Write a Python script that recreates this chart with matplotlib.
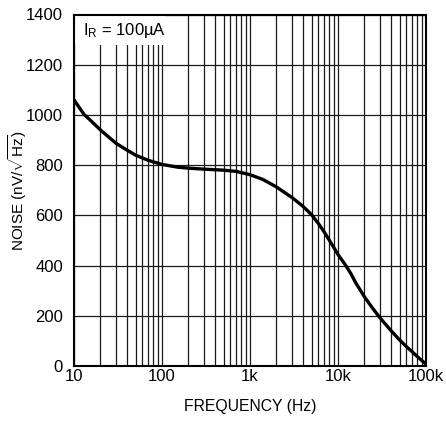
import matplotlib
matplotlib.use("Agg")
import matplotlib.pyplot as plt
from matplotlib.patches import Rectangle
from matplotlib.ticker import FixedLocator, NullFormatter

# points
freq = [10, 13, 15, 20, 30, 40, 50, 70, 100, 150, 200, 300, 500, 700,
        1000, 1400, 2000, 3000, 4000, 5000, 6000, 7000, 8000, 9000,
        10000, 12000, 14000, 16000, 20000, 25000, 30000, 40000, 50000,
        60000, 70000, 80000, 90000, 100000]
noise = [1060, 1002, 982, 940, 887, 860, 840, 819, 803, 792, 788, 784, 780, 775,
         762, 743, 713, 671, 636, 603, 567, 533, 500, 471,
         444, 405, 368, 330, 275, 228, 192, 141, 104,
         77, 56, 37, 21, 8]

x_ticks = [10, 100, 1000, 10000, 100000]
x_labels = ["10", "100", "1k", "10k", "100k"]
y_ticks = [0, 200, 400, 600, 800, 1000, 1200, 1400]
minor_x = [m * 10 ** d for d in range(1, 5) for m in range(2, 10)]

plt.rcParams["font.family"] = ["Liberation Sans", "DejaVu Sans"]
plt.rcParams["mathtext.fontset"] = "custom"
plt.rcParams["mathtext.rm"] = "Liberation Sans"
plt.rcParams["mathtext.it"] = "Liberation Sans:italic"

fig = plt.figure(figsize=(4.46, 4.24), dpi=100)
ax = fig.add_axes([74 / 446, 58 / 424, 352 / 446, 351.5 / 424])

ax.set_xscale("log")
ax.set_xlim(10, 100000)
ax.set_ylim(0, 1400)

ax.xaxis.set_major_locator(FixedLocator(x_ticks))
ax.xaxis.set_minor_locator(FixedLocator(minor_x))
ax.xaxis.set_minor_formatter(NullFormatter())
ax.set_xticks(x_ticks, x_labels)
ax.set_yticks(y_ticks)

ax.grid(True, which="both", axis="x", color="#1a1a1a", lw=0.9)
ax.grid(True, which="major", axis="y", color="#1a1a1a", lw=0.9)
ax.set_axisbelow(True)

ax.tick_params(which="both", length=0, labelsize=12)
ax.tick_params(axis="x", pad=2)
ax.tick_params(axis="y", pad=8)

for s in ax.spines.values():
    s.set_linewidth(1.5)
    s.set_color("black")

ax.plot(freq, noise, color="black", lw=2.4, solid_joinstyle="round", zorder=3)

# white patch behind the label, hides the grid there
ax.add_patch(Rectangle((0, (366 - 45) / 351.5), (165 - 74) / 352, 1,
                       transform=ax.transAxes, facecolor="white",
                       edgecolor="none", zorder=2, clip_on=True))
ax.text((83 - 74) / 352, (366 - 31) / 351.5, r"$\mathrm{I_R}$ = 100µA",
        transform=ax.transAxes, fontsize=12, va="center", ha="left", zorder=4)

ax.set_xlabel("FREQUENCY (Hz)", fontsize=11.3, labelpad=11)
ax.set_ylabel(r"NOISE (nV/$\sqrt{\mathrm{Hz}}$)", fontsize=11, va="center")
ax.yaxis.set_label_coords((18 - 74) / 352, 0.5)

fig.savefig("out.png", dpi=100)
